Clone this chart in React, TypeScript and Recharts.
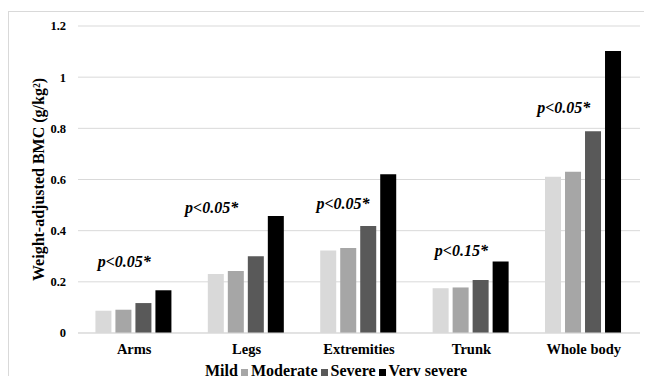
import React from 'react';
import { BarChart, Bar, XAxis, YAxis, CartesianGrid, ReferenceDot, Label } from 'recharts';

// chart values
const categories = ['Arms', 'Legs', 'Extremities', 'Trunk', 'Whole body'];
const mild = [0.087, 0.231, 0.322, 0.175, 0.611];
const moderate = [0.091, 0.242, 0.332, 0.178, 0.63];
const severe = [0.117, 0.3, 0.418, 0.207, 0.789];
const verySevere = [0.167, 0.457, 0.621, 0.279, 1.102];
const pLabels = ['p<0.05*', 'p<0.05*', 'p<0.05*', 'p<0.15*', 'p<0.05*'];
const yTicks = [0, 0.2, 0.4, 0.6, 0.8, 1, 1.2];

// where the p-value notes sit (value axis height, pixel shift)
const noteY = [0.278, 0.489, 0.508, 0.324, 0.883];
const noteDx = [-10, -35, -16, -10, -20];

const series = [
  { key: 'mild', name: 'Mild', color: '#d9d9d9' },
  { key: 'moderate', name: 'Moderate', color: '#a6a6a6' },
  { key: 'severe', name: 'Severe', color: '#595959' },
  { key: 'verySevere', name: 'Very severe', color: '#000000' },
];

const data = categories.map((c, i) => ({
  name: c,
  mild: mild[i],
  moderate: moderate[i],
  severe: severe[i],
  verySevere: verySevere[i],
}));

const FONT = '"Liberation Serif", "Times New Roman", serif';

const fmt = (v: number) => String(Math.round(v * 10) / 10);

const App: React.FC = () => {
  return (
    <div style={{ position: 'relative', width: 652, height: 384, margin: -8, fontFamily: FONT, background: '#fff', overflow: 'hidden' }}>
      <div
        style={{
          position: 'absolute',
          left: 8,
          top: 11,
          width: 660,
          height: 400,
          borderTop: '1px solid #d9d9d9',
          borderLeft: '1px solid #d9d9d9',
        }}
      />
      <div style={{ position: 'absolute', left: 0, top: 0 }}>
        <BarChart
          width={652}
          height={384}
          data={data}
          margin={{ top: 26, right: 12, bottom: 21, left: 0 }}
          barCategoryGap="15.5%"
          barGap={4}
        >
          <CartesianGrid vertical={false} stroke="#d9d9d9" />
          <XAxis
            dataKey="name"
            height={30}
            tickLine={false}
            axisLine={{ stroke: '#d9d9d9' }}
            tickMargin={5}
            tick={{ fill: '#000', fontSize: 14.5, fontWeight: 'bold', fontFamily: FONT }}
            interval={0}
          />
          <YAxis
            width={78}
            domain={[0, 1.2]}
            ticks={yTicks}
            tickFormatter={fmt}
            tickLine={false}
            axisLine={false}
            tickMargin={6}
            tick={{ fill: '#000', fontSize: 12.5, fontWeight: 'bold', fontFamily: FONT }}
          >
            <Label
              content={(props: any) => {
                const vb = props.viewBox;
                const cy = vb.y + vb.height / 2;
                return (
                  <text
                    x={38}
                    y={cy}
                    transform={`rotate(-90, 38, ${cy})`}
                    textAnchor="middle"
                    dominantBaseline="central"
                    fontSize={16}
                    fontWeight="bold"
                    fontFamily={FONT}
                    fill="#000"
                  >
                    Weight-adjusted BMC (g/kg²)
                  </text>
                );
              }}
            />
          </YAxis>
          {series.map((s) => (
            <Bar key={s.key} dataKey={s.key} name={s.name} fill={s.color} isAnimationActive={false} />
          ))}
          {categories.map((c, i) => (
            <ReferenceDot
              key={c}
              x={c}
              y={noteY[i]}
              r={1}
              shape={(p: any) => (
                <text
                  x={p.cx + noteDx[i]}
                  y={p.cy}
                  textAnchor="middle"
                  dominantBaseline="central"
                  fontSize={16}
                  fontWeight="bold"
                  fontStyle="italic"
                  fontFamily={FONT}
                  fill="#000"
                >
                  {pLabels[i]}
                </text>
              )}
            />
          ))}
        </BarChart>
      </div>
      <div
        style={{
          position: 'absolute',
          left: 205,
          top: 361,
          display: 'flex',
          alignItems: 'center',
          fontSize: 16,
          fontWeight: 'bold',
          lineHeight: '20px',
          whiteSpace: 'nowrap',
        }}
      >
        {series.map((s, i) => (
          <span key={s.key} style={{ display: 'flex', alignItems: 'center', marginLeft: i === 0 ? 0 : 3 }}>
            {i > 0 && (
              <span style={{ display: 'inline-block', width: 7, height: 7, background: s.color, marginRight: 3, marginTop: 2 }} />
            )}
            {s.name}
          </span>
        ))}
      </div>
    </div>
  );
};

export default App;
